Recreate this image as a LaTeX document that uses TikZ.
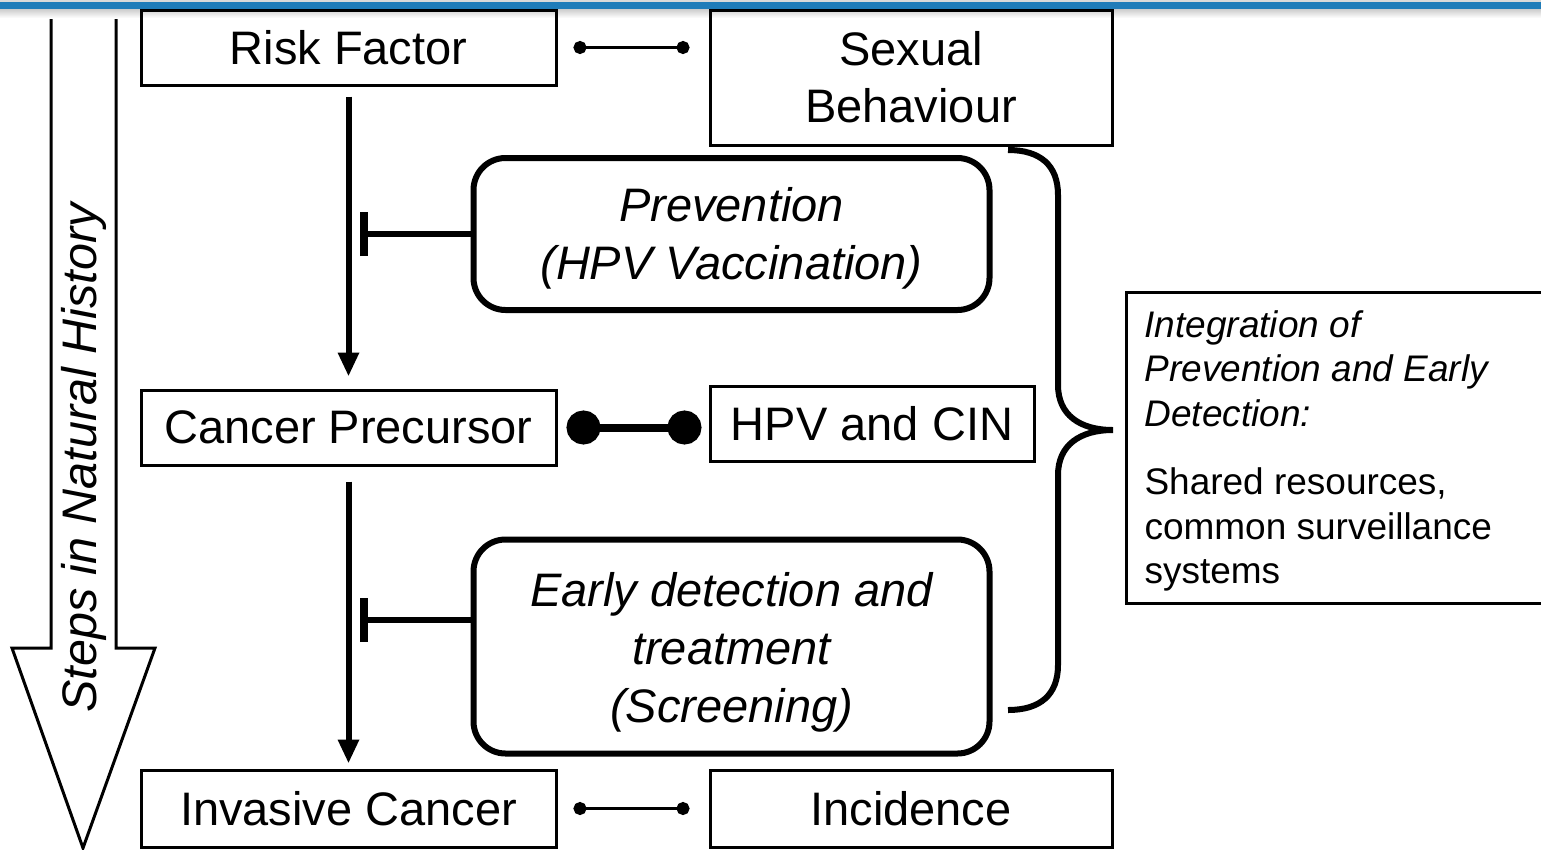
\documentclass[tikz,border=0pt]{standalone}
\usepackage{fontspec}
\setmainfont{Liberation Sans}
\usetikzlibrary{arrows.meta}
\definecolor{bandblue}{HTML}{1F7CB9}
% centred lines, given extra room on top so they sit a little lower in the box
\newcommand{\stacklines}[2]{\raisebox{0pt}[\dimexpr\height+#1\relax][\depth]{\begin{tabular}{@{}c@{}}#2\end{tabular}}}
\begin{document}
\begin{tikzpicture}[x=1pt,y=-1pt,
  plain/.style={draw, line width=3pt, rectangle, inner sep=0pt,
    font=\fontsize{47}{57}\selectfont, align=center},
  stage/.style={draw, line width=6pt, rounded corners=32pt, inner sep=0pt,
    font=\fontsize{47}{58}\selectfont\itshape},
  flow/.style={line width=6pt, -{Triangle[length=24pt,width=20pt]}},
  block/.style={line width=6pt, -{Bar[width=44pt,line width=8pt]}},
  link/.style={line width=3pt, {Circle[length=13pt]}-{Circle[length=13pt]}},
  biglink/.style={line width=8pt, {Circle[length=34pt]}-{Circle[length=34pt]}},
]
\clip (0,0) rectangle (1541,849);

% big downward arrow on the left
\draw[line width=3pt, line join=miter, fill=white]
  (51,-5) -- (51,648) -- (12,648) -- (83,848) -- (155,648) -- (116,648) -- (116,-5) -- cycle;
\node[rotate=90, font=\fontsize{48.5}{57}\selectfont\itshape] (steps) at (84,458)
  {Steps in Natural History};

% header band
\fill[gray!30] (0,0) rectangle (1541,2);
\fill[bandblue] (0,2) rectangle (1541,9);
\shade[top color=black!20, bottom color=white] (0,9) rectangle (1541,18);

% stages
\node[plain, minimum width=415pt, minimum height=75pt] (rf) at (348.5,47.5) {Risk Factor};
\node[plain, minimum width=402pt, minimum height=135pt] (sb) at (911,77.5) {Sexual\\Behaviour};
\node[plain, minimum width=415pt, minimum height=75pt] (cp) at (348.5,427.5) {Cancer Precursor};
\node[plain, minimum width=324pt, minimum height=75pt] (hc) at (872,423.5) {HPV and CIN};
\node[plain, minimum width=415pt, minimum height=77pt] (ic) at (348.5,808.5) {Invasive Cancer};
\node[plain, minimum width=402pt, minimum height=77pt] (inc) at (911,808.5) {Incidence};

% interventions
\node[stage, minimum width=516pt, minimum height=152pt] (pv) at (731.5,234)
  {\stacklines{10pt}{Prevention\\(HPV Vaccination)}};
\node[stage, minimum width=516pt, minimum height=214pt] (ed) at (731.5,646.5)
  {\stacklines{12pt}{Early detection and\\treatment\\(Screening)}};

% integration note
\node[draw, line width=3pt, anchor=west, inner xsep=18pt, inner ysep=0pt,
  minimum height=311pt, font=\fontsize{37}{44.5}\selectfont] (ig) at (1125,447.5)
  {\raisebox{0pt}[\dimexpr\height+7pt\relax][\depth]{\parbox{394pt}{\raggedright\itshape
   Integration of\\Prevention and Early\\Detection:\\[24pt]\upshape
   Shared resources,\\common surveillance\\systems}}};

% progression arrows
\draw[flow, shorten <=10pt, shorten >=12pt] (rf) -- (cp);
\draw[flow, shorten <=15pt, shorten >=5pt] (cp) -- (ic);

% inhibition
\draw[block, shorten >=11pt] (pv.west) -- (pv.west -| rf.south);
\draw[block, shorten >=11pt] ([yshift=26.5pt]ed.west) -- ([yshift=26.5pt]ed.west -| rf.south);

% measurement links
\draw[link, shorten <=16pt, shorten >=19pt] (rf.east) -- (rf.east -| sb.west);
\draw[biglink, shorten <=9pt, shorten >=7pt] (cp.east) -- (cp.east -| hc.west);
\draw[link, shorten <=16pt, shorten >=19pt] (ic.east) -- (inc.west);

% brace grouping the interventions
\draw[line width=6pt]
  (1008,150) .. controls (1040,150) and (1058,165) .. (1058,195)
  -- (1058,385) .. controls (1058,415) and (1080,430) .. (1113,430)
  .. controls (1080,430) and (1058,445) .. (1058,475)
  -- (1058,665) .. controls (1058,695) and (1040,710) .. (1008,710);
\end{tikzpicture}
\end{document}
